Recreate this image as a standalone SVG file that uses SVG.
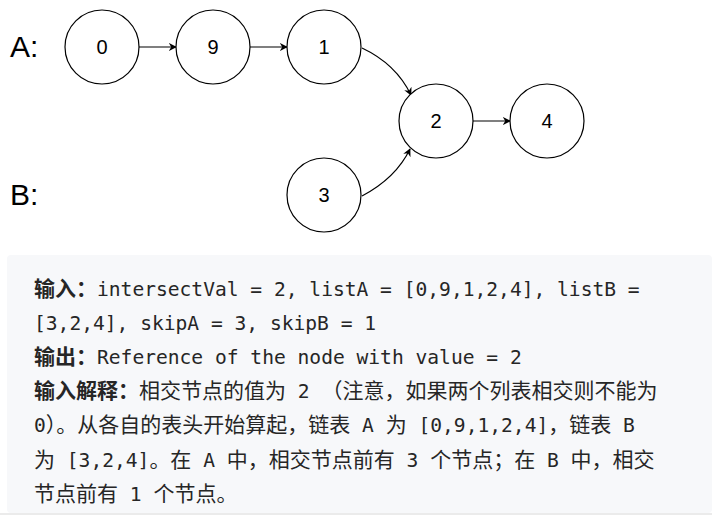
<svg xmlns="http://www.w3.org/2000/svg" width="712" height="522" viewBox="0 0 712 522">
<style>
.n{fill:#fff;stroke:#000;stroke-width:1.2}
.nt{font-family:"Liberation Sans",Arial,sans-serif;font-size:20px;text-anchor:middle;fill:#000}
.lab{font-family:"Liberation Sans",Arial,sans-serif;font-size:30px;fill:#000}
.c{fill:none;stroke:#000;stroke-width:1.2;marker-end:url(#ah)}
.t{font-family:"DejaVu Sans Mono","Noto Sans CJK SC",monospace;font-size:19.6px;fill:#262626}
.b{font-family:"Noto Sans CJK SC",sans-serif;font-weight:bold;font-size:21px}
.h{font-family:"Noto Sans CJK SC",sans-serif;font-size:21px}
</style>
<defs>
<marker id="ah" viewBox="0 0 10 10" refX="9" refY="5" markerWidth="8" markerHeight="8" orient="auto" markerUnits="userSpaceOnUse"><path d="M0,0 L10,5 L0,10 L3,5 Z" fill="#000"/></marker>
</defs>
<rect width="712" height="522" fill="#fff"/>
<text class="lab" x="10" y="57">A:</text>
<text class="lab" x="10" y="205">B:</text>
<g id="connectors">
<line class="c" x1="139" y1="47" x2="176" y2="47"/>
<line class="c" x1="250" y1="47" x2="287" y2="47"/>
<path class="c" d="M362,48 Q396,64 411,95"/>
<path class="c" d="M362,196 Q396,178 410,149"/>
<line class="c" x1="473" y1="121" x2="510" y2="121"/>
</g>
<g id="n0"><circle class="n" cx="102" cy="47" r="37"/><text class="nt" x="102" y="54">0</text></g>
<g id="n9"><circle class="n" cx="213" cy="47" r="37"/><text class="nt" x="213" y="54">9</text></g>
<g id="n1"><circle class="n" cx="324" cy="47" r="37"/><text class="nt" x="324" y="54">1</text></g>
<g id="n2"><circle class="n" cx="436" cy="121" r="37"/><text class="nt" x="436" y="128">2</text></g>
<g id="n4"><circle class="n" cx="547" cy="121" r="37"/><text class="nt" x="547" y="128">4</text></g>
<g id="n3"><circle class="n" cx="324" cy="195" r="37"/><text class="nt" x="324" y="202">3</text></g>
<rect x="7" y="255" width="705" height="258" rx="4" fill="#f7f8fa"/>
<rect x="0" y="513" width="712" height="2" fill="#ebebeb"/>
<text class="t" x="34" y="296"><tspan class="b">输入：</tspan>intersectVal = 2, listA = [0,9,1,2,4], listB =</text>
<text class="t" x="34" y="330">[3,2,4], skipA = 3, skipB = 1</text>
<text class="t" x="34" y="364"><tspan class="b">输出：</tspan>Reference of the node with value = 2</text>
<text class="t" x="34" y="398"><tspan class="b">输入解释：</tspan><tspan class="h">相交节点的值为</tspan> 2 <tspan class="h">（注意，如果两个列表相交则不能为</tspan></text>
<text class="t" x="34" y="432">0<tspan class="h">）。从各自的表头开始算起，链表</tspan> A <tspan class="h">为</tspan> [0,9,1,2,4]<tspan class="h">，链表</tspan> B</text>
<text class="t" x="34" y="467"><tspan class="h">为</tspan> [3,2,4]<tspan class="h">。在</tspan> A <tspan class="h">中，相交节点前有</tspan> 3 <tspan class="h">个节点；在</tspan> B <tspan class="h">中，相交</tspan></text>
<text class="t" x="34" y="501"><tspan class="h">节点前有</tspan> 1 <tspan class="h">个节点。</tspan></text>
</svg>
